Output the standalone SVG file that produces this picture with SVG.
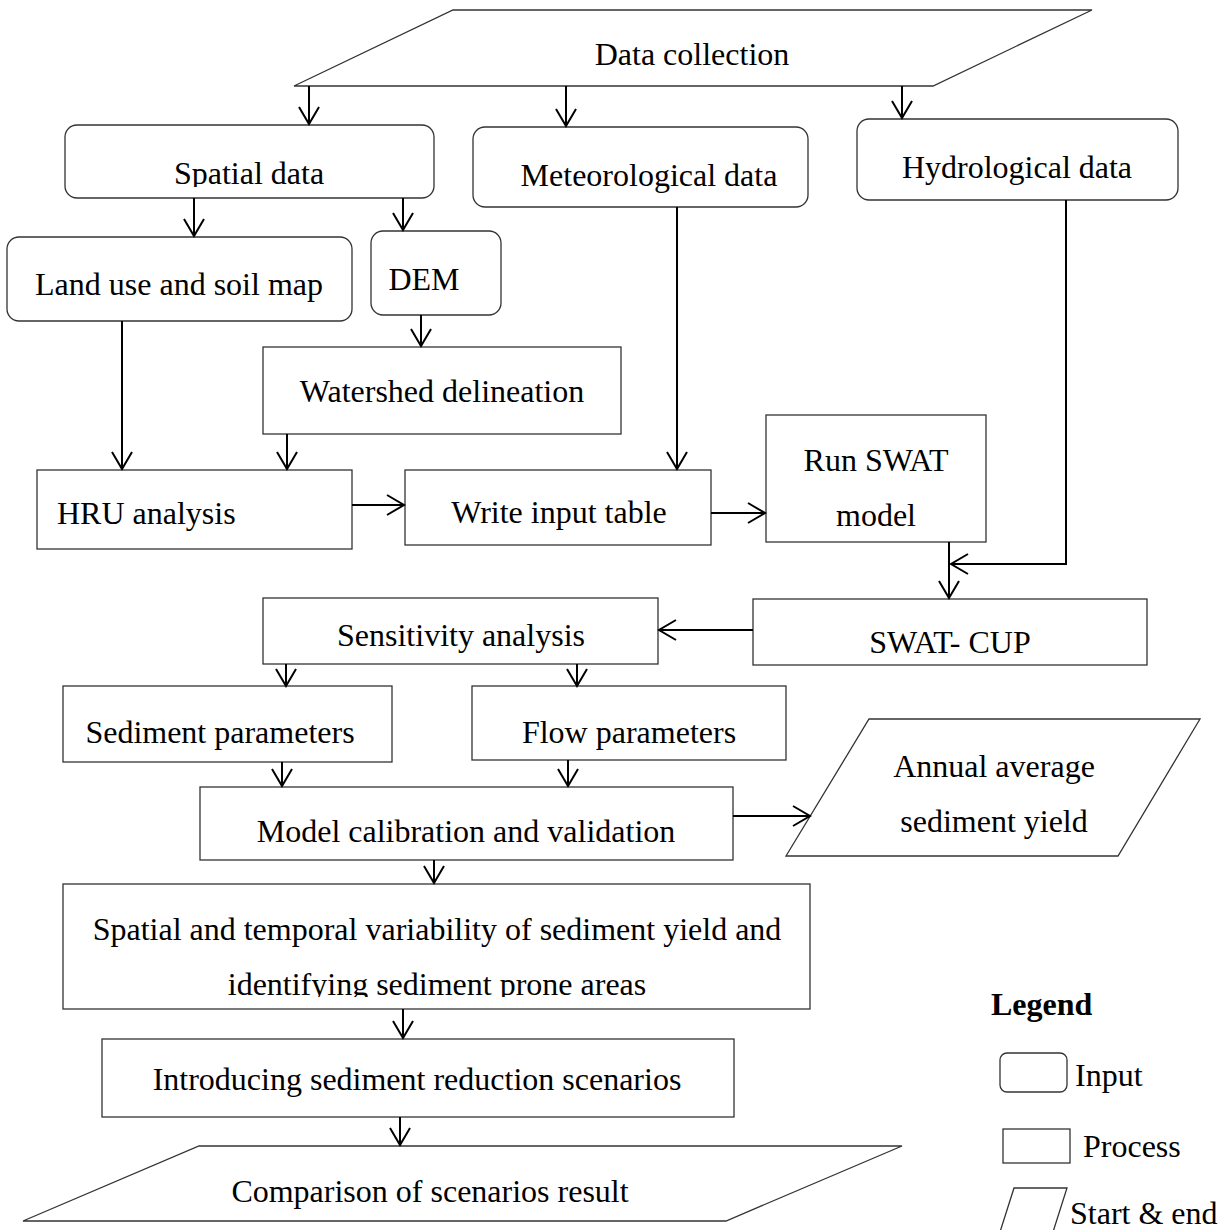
<svg xmlns="http://www.w3.org/2000/svg" width="1225" height="1230" viewBox="0 0 1225 1230">
<style>
  .box { fill: #fff; stroke: #333; stroke-width: 1.3; }
  .t { font-family: "Liberation Serif", "Times New Roman", serif; font-size: 32px; fill: #000; text-anchor: middle; }
  .ts { font-family: "Liberation Serif", "Times New Roman", serif; font-size: 32px; fill: #000; }
  .c { fill: none; stroke: #000; stroke-width: 2; }
</style>
<defs>
  <marker id="arr" markerUnits="userSpaceOnUse" viewBox="-20 -12 22 24" markerWidth="22" markerHeight="24" refX="0" refY="0" orient="auto" overflow="visible">
    <path d="M-17,-10 L0,0 L-17,10" fill="none" stroke="#000" stroke-width="2"/>
  </marker>
  <clipPath id="clipSpatial"><rect x="65" y="125" width="369" height="62"/></clipPath>
  <clipPath id="clipST"><rect x="63" y="884" width="747" height="113"/></clipPath>
</defs>
<rect width="1225" height="1230" fill="#fff"/>

<g id="data-collection">
  <polygon class="box" points="453,10 1092,10 933,86 294,86"/>
  <text class="t" x="692" y="65">Data collection</text>
</g>
<g id="spatial-data">
  <rect class="box" x="65" y="125" width="369" height="73" rx="12"/>
  <text class="t" x="249" y="184" clip-path="url(#clipSpatial)">Spatial data</text>
</g>
<g id="meteorological-data">
  <rect class="box" x="473" y="127" width="335" height="80" rx="12"/>
  <text class="t" x="649" y="186">Meteorological data</text>
</g>
<g id="hydrological-data">
  <rect class="box" x="857" y="119" width="321" height="81" rx="12"/>
  <text class="t" x="1017" y="178">Hydrological data</text>
</g>
<g id="land-use">
  <rect class="box" x="7" y="237" width="345" height="84" rx="12"/>
  <text class="t" x="179" y="295">Land use and soil map</text>
</g>
<g id="dem">
  <rect class="box" x="371" y="231" width="130" height="84" rx="12"/>
  <text class="t" x="424" y="290">DEM</text>
</g>
<g id="watershed">
  <rect class="box" x="263" y="347" width="358" height="87"/>
  <text class="t" x="442" y="402">Watershed delineation</text>
</g>
<g id="hru">
  <rect class="box" x="37" y="470" width="315" height="79"/>
  <text class="ts" x="57" y="524">HRU analysis</text>
</g>
<g id="write-input">
  <rect class="box" x="405" y="470" width="306" height="75"/>
  <text class="t" x="559" y="523">Write input table</text>
</g>
<g id="run-swat">
  <rect class="box" x="766" y="415" width="220" height="127"/>
  <text class="t" x="876" y="471">Run SWAT</text>
  <text class="t" x="876" y="526">model</text>
</g>
<g id="swat-cup">
  <rect class="box" x="753" y="599" width="394" height="66"/>
  <text class="t" x="950" y="653">SWAT- CUP</text>
</g>
<g id="sensitivity">
  <rect class="box" x="263" y="598" width="395" height="66"/>
  <text class="t" x="461" y="646">Sensitivity analysis</text>
</g>
<g id="sediment-params">
  <rect class="box" x="63" y="686" width="329" height="76"/>
  <text class="t" x="220" y="743">Sediment parameters</text>
</g>
<g id="flow-params">
  <rect class="box" x="472" y="686" width="314" height="74"/>
  <text class="t" x="629" y="743">Flow parameters</text>
</g>
<g id="model-calibration">
  <rect class="box" x="200" y="787" width="533" height="73"/>
  <text class="t" x="466" y="842">Model calibration and validation</text>
</g>
<g id="annual-yield">
  <polygon class="box" points="869,719 1200,719 1118,856 786,856"/>
  <text class="t" x="994" y="777">Annual average</text>
  <text class="t" x="994" y="832">sediment yield</text>
</g>
<g id="spatial-temporal">
  <rect class="box" x="63" y="884" width="747" height="125"/>
  <g clip-path="url(#clipST)">
    <text class="t" x="437" y="940">Spatial and temporal variability of sediment yield and</text>
    <text class="t" x="437" y="995">identifying sediment prone areas</text>
  </g>
</g>
<g id="introducing">
  <rect class="box" x="102" y="1039" width="632" height="78"/>
  <text class="t" x="417" y="1090">Introducing sediment reduction scenarios</text>
</g>
<g id="comparison">
  <polygon class="box" points="199,1146 902,1146 726,1221 23,1221"/>
  <text class="t" x="430" y="1202">Comparison of scenarios result</text>
</g>

<g id="legend">
  <text class="ts" x="991" y="1015" font-weight="bold">Legend</text>
  <rect class="box" x="1000" y="1053" width="67" height="39" rx="7"/>
  <text class="ts" x="1075" y="1086">Input</text>
  <rect class="box" x="1003" y="1129" width="67" height="34"/>
  <text class="ts" x="1083" y="1157">Process</text>
  <polygon class="box" points="1014,1188 1067,1188 1053,1232 1000,1232"/>
  <text class="ts" x="1070" y="1224">Start &amp; end</text>
</g>

<g id="connectors">
  <line class="c" x1="309" y1="86" x2="309" y2="124" marker-end="url(#arr)"/>
  <line class="c" x1="566" y1="86" x2="566" y2="126" marker-end="url(#arr)"/>
  <line class="c" x1="902" y1="86" x2="902" y2="118" marker-end="url(#arr)"/>
  <line class="c" x1="194" y1="198" x2="194" y2="236" marker-end="url(#arr)"/>
  <line class="c" x1="403" y1="198" x2="403" y2="230" marker-end="url(#arr)"/>
  <line class="c" x1="421" y1="315" x2="421" y2="346" marker-end="url(#arr)"/>
  <line class="c" x1="122" y1="321" x2="122" y2="469" marker-end="url(#arr)"/>
  <line class="c" x1="287" y1="434" x2="287" y2="469" marker-end="url(#arr)"/>
  <line class="c" x1="677" y1="207" x2="677" y2="469" marker-end="url(#arr)"/>
  <line class="c" x1="352" y1="505" x2="404" y2="505" marker-end="url(#arr)"/>
  <line class="c" x1="711" y1="513" x2="765" y2="513" marker-end="url(#arr)"/>
  <line class="c" x1="949" y1="542" x2="949" y2="598" marker-end="url(#arr)"/>
  <polyline class="c" points="1066,200 1066,564 951,564" marker-end="url(#arr)"/>
  <line class="c" x1="753" y1="630" x2="659" y2="630" marker-end="url(#arr)"/>
  <line class="c" x1="286" y1="664" x2="286" y2="686" marker-end="url(#arr)"/>
  <line class="c" x1="577" y1="664" x2="577" y2="686" marker-end="url(#arr)"/>
  <line class="c" x1="282" y1="762" x2="282" y2="786" marker-end="url(#arr)"/>
  <line class="c" x1="568" y1="760" x2="568" y2="786" marker-end="url(#arr)"/>
  <line class="c" x1="733" y1="816" x2="810" y2="816" marker-end="url(#arr)"/>
  <line class="c" x1="434" y1="860" x2="434" y2="883" marker-end="url(#arr)"/>
  <line class="c" x1="403" y1="1009" x2="403" y2="1038" marker-end="url(#arr)"/>
  <line class="c" x1="400" y1="1117" x2="400" y2="1145" marker-end="url(#arr)"/>
</g>
</svg>
